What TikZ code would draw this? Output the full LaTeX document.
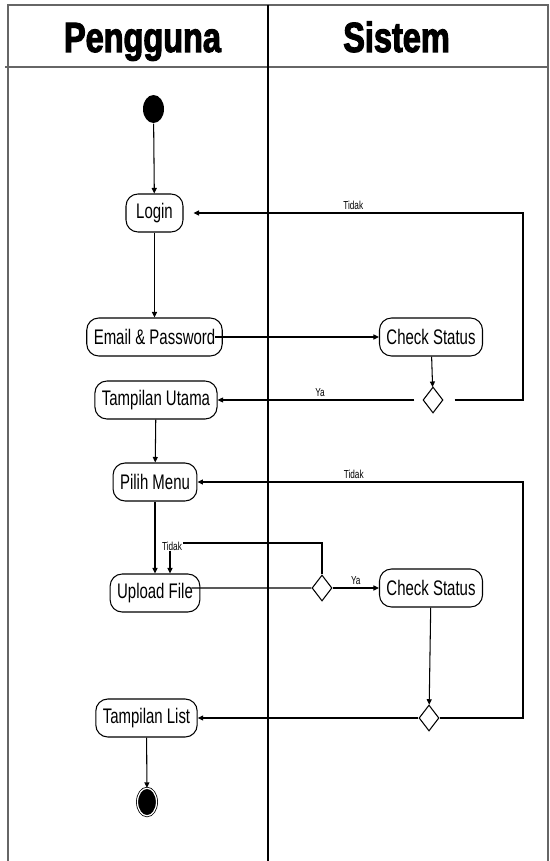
\documentclass[tikz,border=0pt]{standalone}
\usepackage{fontspec}
\setmainfont{Liberation Sans}
\newfontfamily\actfont[FakeStretch=0.71]{Liberation Sans}
\newfontfamily\lanefont[FakeStretch=0.77,FakeBold=2.5]{Liberation Sans}
\usetikzlibrary{arrows.meta,positioning,shapes.geometric,calc}
\tikzset{
  every picture/.style={line width=0.6pt},
  act/.style={draw, rounded corners=0.24cm, fill=white, align=center,
    font=\actfont\fontsize{12}{13}\selectfont, inner xsep=0.14cm, inner ysep=0pt, minimum height=0.76cm},
  decision/.style={draw, diamond, fill=white, inner sep=0pt, minimum width=0.4cm, minimum height=0.52cm},
  arrow/.style={-{Triangle[length=1.1mm, width=1mm]}},
  guard/.style={font=\actfont\fontsize{6.6}{7}\selectfont, inner sep=1.5pt},
  lane/.style={draw=black!60, line width=0.7pt},
  lanetitle/.style={font=\lanefont\bfseries\fontsize{24}{26}\selectfont, anchor=base},
}

\begin{document}
\begin{tikzpicture}[x=0.02cm, y=-0.02cm,
    start/.style={ellipse, fill=black, inner sep=0pt, minimum width=0.42cm, minimum height=0.56cm},
    stop/.style={ellipse, draw=black, double=white, double distance=0.7pt, line width=0.45pt, fill=black,
      inner sep=0pt, minimum width=0.38cm, minimum height=0.55cm}]
  \useasboundingbox (0,0) rectangle (549,861);
  % swimlanes
  \draw[lane] (8,861) -- (8,5) -- (548,5) -- (548,861);
  \draw[lane] (5,67) -- (548,67);
  \draw[lane, draw=black] (268,5) -- (268,861);
  \node[lanetitle] (pengguna) at (142.5,52) {Pengguna};
  \node[lanetitle] (sistem) at (396.5,52) {Sistem};

  % activities
  \node[start] (start) at (153.5,109) {};
  \node[act, minimum width=1.14cm] (login) at (154.5,213) {Login};
  \node[act] (email) at (154.5,337) {Email \& Password};
  \node[act] (check1) at (431,337) {Check Status};
  \node[decision] (dec1) at (433,400) {};
  \node[act] (utama) at (156,400) {Tampilan Utama};
  \node[act] (menu) at (155,482) {Pilih Menu};
  \node[act] (upload) at (155,593) {Upload File};
  \node[decision] (dec2) at (322,588) {};
  \node[act] (check2) at (431,588) {Check Status};
  \node[decision] (dec3) at (429,718) {};
  \node[act] (list) at (146.5,718) {Tampilan List};
  \node[stop] (stop) at (147,802) {};

  \coordinate (turn1) at (523,400);
  \coordinate (turn2) at (170,543);
  \coordinate (turn3) at (523,718);

  % flow
  \draw[arrow] (start) -- (login);
  \draw[arrow] (login) -- (email);
  \draw[arrow] ([xshift=-0.16cm]email.east) -- (check1.west);
  \draw[arrow] (check1) -- (dec1);
  \draw[arrow, shorten <=0.16cm] (dec1.west) -- node[guard, above] {Ya} (utama.east);
  \draw[arrow, shorten <=0.22cm, shorten >=0.2cm] (dec1.east) -- (turn1) |- node[guard, above, pos=0.75] {Tidak} (login.east);
  \draw[arrow] (utama) -- (menu);
  \draw[arrow] (menu) -- (upload);
  \draw ([xshift=-0.18cm, yshift=0.1cm]upload.east) -- (dec2.west);
  \draw[arrow] (dec2.east) -- node[guard, above] {Ya} (check2.west);
  \draw[arrow] (dec2.north) |- (turn2) -- (turn2 |- upload.north);
  \node[guard, fill=white, inner sep=0.5pt] (tidak2) at (172,546) {Tidak};
  \draw[arrow] (check2) -- (dec3);
  \draw[arrow] (dec3.west) -- (list.east);
  \draw[arrow] (dec3.east) -- (turn3) |- node[guard, above, pos=0.76] {Tidak} (menu.east);
  \draw[arrow] (list) -- (stop);
\end{tikzpicture}
\end{document}
